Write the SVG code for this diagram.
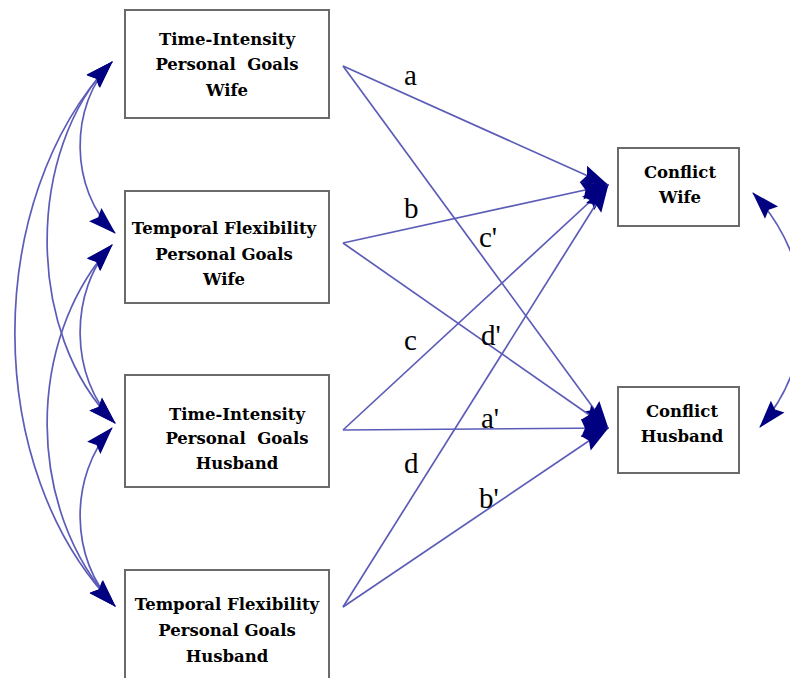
<svg xmlns="http://www.w3.org/2000/svg" width="790" height="678" viewBox="0 0 790 678">
<style>
.box{fill:#fff;stroke:#6a6a6a;stroke-width:2}
.nt{font-family:"DejaVu Serif","Liberation Serif",serif;font-weight:bold;font-size:16.5px;fill:#000;text-anchor:middle}
.lbl{font-family:"Liberation Serif","Times New Roman",serif;font-size:29px;fill:#000}
.ln{fill:none;stroke:#5c5cb8;stroke-width:1.7}
.one{marker-end:url(#ah)}
.two{marker-start:url(#ah);marker-end:url(#ah)}
</style>
<defs>
<marker id="ah" markerUnits="userSpaceOnUse" markerWidth="28" markerHeight="18" refX="27" refY="9" orient="auto-start-reverse" overflow="visible">
<path d="M0,0 L28,9 L0,18 L4,9 z" fill="#000080"/>
</marker>
</defs>
<rect width="790" height="678" fill="#fff"/>
<g id="connectors">
<path class="ln one" d="M343,66 L608,185"/>
<path class="ln one" d="M343,66 L608,428"/>
<path class="ln one" d="M343,243 L608,185"/>
<path class="ln one" d="M343,243 L608,428"/>
<path class="ln one" d="M343,430 L608,185"/>
<path class="ln one" d="M343,430 L608,428"/>
<path class="ln one" d="M343,607 L608,185"/>
<path class="ln one" d="M343,607 L608,428"/>
<path class="ln two" d="M112,62 C69,105 69,190 115,233"/>
<path class="ln two" d="M112,62 C25,150 25,335 115,423"/>
<path class="ln two" d="M112,62 C-18,200 -18,470 115,606"/>
<path class="ln two" d="M112,245 C69,290 69,378 115,423"/>
<path class="ln two" d="M112,245 C25,340 25,510 115,606"/>
<path class="ln two" d="M112,428 C69,475 69,560 115,606"/>
<path class="ln two" d="M753,193 C818,262 818,360 760,427"/>
</g>
<g id="labels">
<text class="lbl" x="404" y="85">a</text>
<text class="lbl" x="404" y="218">b</text>
<text class="lbl" x="479" y="247">c'</text>
<text class="lbl" x="404" y="350">c</text>
<text class="lbl" x="481" y="345">d'</text>
<text class="lbl" x="481" y="428">a'</text>
<text class="lbl" x="404" y="473">d</text>
<text class="lbl" x="479" y="508">b'</text>
</g>
<g id="ti_wife">
<rect class="box" x="125" y="10" width="204" height="108"/>
<text class="nt" x="227" y="45">Time-Intensity</text>
<text class="nt" x="227" y="70" xml:space="preserve">Personal  Goals</text>
<text class="nt" x="227" y="96">Wife</text>
</g>
<g id="tf_wife">
<rect class="box" x="125" y="191" width="204" height="112"/>
<text class="nt" x="224" y="234">Temporal Flexibility</text>
<text class="nt" x="224" y="260">Personal Goals</text>
<text class="nt" x="224" y="285">Wife</text>
</g>
<g id="ti_husband">
<rect class="box" x="125" y="375" width="204" height="112"/>
<text class="nt" x="237" y="420">Time-Intensity</text>
<text class="nt" x="237" y="444" xml:space="preserve">Personal  Goals</text>
<text class="nt" x="237" y="469">Husband</text>
</g>
<g id="tf_husband">
<rect class="box" x="125" y="570" width="204" height="112"/>
<text class="nt" x="227" y="610">Temporal Flexibility</text>
<text class="nt" x="227" y="636">Personal Goals</text>
<text class="nt" x="227" y="662">Husband</text>
</g>
<g id="conflict_wife">
<rect class="box" x="618" y="148" width="121" height="78"/>
<text class="nt" x="680" y="178">Conflict</text>
<text class="nt" x="680" y="203">Wife</text>
</g>
<g id="conflict_husband">
<rect class="box" x="618" y="387" width="121" height="86"/>
<text class="nt" x="682" y="417">Conflict</text>
<text class="nt" x="682" y="442">Husband</text>
</g>
</svg>
